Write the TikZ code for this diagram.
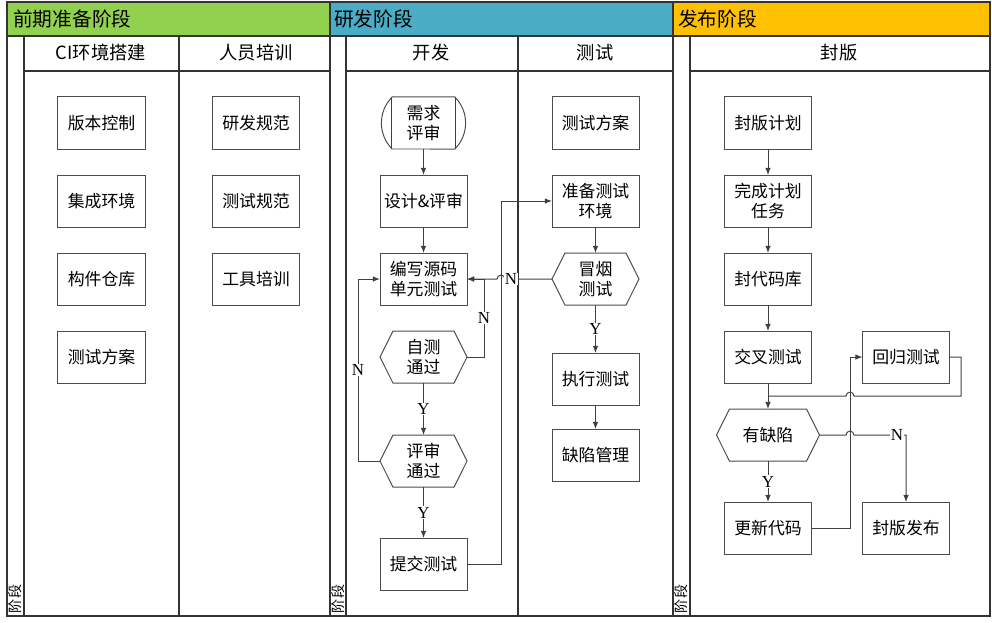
\documentclass[tikz,border=0pt]{standalone}
\usepackage{fontspec}
\setmainfont{Noto Sans CJK SC}
\newfontfamily\yesno{Liberation Serif}
\usetikzlibrary{arrows.meta, shapes.misc, shapes.symbols, positioning, calc}
\tikzset{frame/.style = {draw=black!80, line width=0.8pt}}
\tikzset{box/.style = {
  rectangle,
  draw=black!70, line width=0.7pt,
  minimum width=2.175cm, minimum height=1.3cm,
  text centered, align=center,
  inner sep=1pt, outer sep=0pt,
  font=\fontsize{12}{14.5}\selectfont
  }}
\tikzset{decision/.style = {
  box,
  signal, signal to=west and east,
  signal pointer angle=127
  }}
\tikzset{terminal/.style = {
  box,
  rounded rectangle,
  rounded rectangle arc length=90
  }}
\tikzset{flow/.style = {draw=black!75, line width=0.7pt}}
\tikzset{arrow/.style = {
  flow,
  -{Latex[length=1.8mm,width=1.4mm]}
  }}
\tikzset{yn/.style = {fill=white, inner sep=0.6pt, font=\yesno\fontsize{12}{12}\selectfont}}
\tikzset{poolname/.style = {anchor=west, inner sep=0pt, font=\fontsize{14}{14}\selectfont}}
\tikzset{lanename/.style = {font=\fontsize{13}{13}\selectfont}}
\tikzset{stripname/.style = {rotate=90, anchor=west, inner sep=0.5pt, font=\fontsize{10}{10}\selectfont}}
\tikzset{bridge/.style = {radius=0.1cm}}

\begin{document}
\begin{tikzpicture}[x=0.025cm, y=-0.025cm]
  \useasboundingbox (0,0) rectangle (992,623);
  %
  % Pools and lanes
  %
  \fill[fill={rgb,255:red,146;green,208;blue,80}] (7,2) rectangle (330,36);
  \fill[fill={rgb,255:red,75;green,172;blue,198}] (330,2) rectangle (673,36);
  \fill[fill={rgb,255:red,255;green,192;blue,0}] (673,2) rectangle (990,36);
  \draw[frame] (7,2) rectangle (990,616);
  \draw[frame] (7,36) -- (990,36);
  \draw[frame] (330,2) -- (330,616);
  \draw[frame] (673,2) -- (673,616);
  \foreach \x in {24,346,690,179,518}
    \draw[frame] (\x,36) -- (\x,616);
  \draw[frame] (24,71) -- (330,71);
  \draw[frame] (346,71) -- (673,71);
  \draw[frame] (690,71) -- (990,71);

  \node (prep) [poolname] at (13,19) {前期准备阶段};
  \node (rnd) [poolname] at (334,19) {研发阶段};
  \node (pub) [poolname] at (678,19) {发布阶段};

  \node (ciLane) [lanename] at (101,53) {CI环境搭建};
  \node (staffLane) [lanename] at (256,53) {人员培训};
  \node (devLane) [lanename] at (431,53) {开发};
  \node (testLane) [lanename] at (595,53) {测试};
  \node (sealLane) [lanename] at (839,53) {封版};

  \node (prepStrip) [stripname] at (15.5,614) {阶段};
  \node (rndStrip) [stripname] at (338,614) {阶段};
  \node (pubStrip) [stripname] at (681.5,614) {阶段};

  %
  % Specification of nodes
  %
  \node (vcs) [box] at (101.5,123) {版本控制};
  \node (integ) [box, below = 0.65cm of vcs] {集成环境};
  \node (artifact) [box, below = 0.65cm of integ] {构件仓库};
  \node (testplanA) [box, below = 0.65cm of artifact] {测试方案};

  \node (devspec) [box] at (256,123) {研发规范};
  \node (testspec) [box, below = 0.65cm of devspec] {测试规范};
  \node (tooltrain) [box, below = 0.65cm of testspec] {工具培训};

  \node (req) [terminal] at (423.5,123) {需求\\评审};
  \node (design) [box, below = 0.65cm of req] {设计\&评审};
  \node (code) [box, below = 0.65cm of design] {编写源码\\单元测试};
  \node (selfchk) [decision, below = 0.65cm of code] {自测\\通过};
  \node (reviewchk) [decision, below = 1.3cm of selfchk] {评审\\通过};
  \node (submit) [box, below = 1.275cm of reviewchk] {提交测试};

  \node (testplanB) [box] at (595.5,123) {测试方案};
  \node (prepenv) [box, below = 0.65cm of testplanB] {准备测试\\环境};
  \node (smoke) [decision, below = 0.65cm of prepenv] {冒烟\\测试};
  \node (exec) [box, below = 1.2cm of smoke] {执行测试};
  \node (defmgr) [box, below = 0.6cm of exec] {缺陷管理};

  \node (sealplan) [box] at (768,123) {封版计划};
  \node (finish) [box, below = 0.65cm of sealplan] {完成计划\\任务};
  \node (freeze) [box, below = 0.65cm of finish] {封代码库};
  \node (cross) [box, below = 0.65cm of freeze] {交叉测试};
  \node (hasdef) [decision, minimum width=2.575cm, below = 0.65cm of cross] {有缺陷};
  \node (update) [box, below = 1.025cm of hasdef] {更新代码};
  \node (regress) [box, right = 1.275cm of cross] {回归测试};
  \node (release) [box, right = 1.275cm of update] {封版发布};

  % inner edges of the terminal
  \draw[flow] ([xshift=0.25cm, yshift=0.65cm]req.west) -- ([xshift=0.25cm, yshift=-0.65cm]req.west);
  \draw[flow] ([xshift=-0.25cm, yshift=0.65cm]req.east) -- ([xshift=-0.25cm, yshift=-0.65cm]req.east);

  % routing columns
  \coordinate (busL) at (358,0);
  \coordinate (busA) at (484,0);
  \coordinate (busB) at (501,0);
  \coordinate (busD) at (850,0);
  \coordinate (busE) at (961,0);
  \coordinate (merge) at ($(cross.south)!0.5!(hasdef.north)$);

  %
  % Specification of lines
  %
  \draw [arrow] (req.south) -- (design.north);
  \draw [arrow] (design.south) -- (code.north);
  \draw [arrow] (selfchk.south) -- node (y1) [yn] {Y} (reviewchk.north);
  \draw [arrow] (reviewchk.south) -- node (y2) [yn] {Y} (submit.north);
  \draw [arrow] (selfchk.east) -| (busA |- code.east) -- (code.east);
  \draw [arrow] (reviewchk.west) -| (busL |- code.west) -- (code.west);
  \draw [arrow] (smoke.west) -- ($(busB |- smoke.west)+(4,0)$)
    arc[start angle=0, end angle=180, bridge] -- (code.east);
  \draw [arrow] (submit.east) -| (busB |- prepenv.west) -- (prepenv.west);
  \node (n1) [yn] at ($(busA |- selfchk.east)!0.5!(busA |- code.east)$) {N};
  \node (n2) [yn] at ($(busL |- reviewchk.west)!0.5!(busL |- code.west)$) {N};
  \node (n3) [yn] at ($(busB |- smoke.west)+(10,0)$) {N};

  \draw [arrow] (prepenv.south) -- (smoke.north);
  \draw [arrow] (smoke.south) -- node (y3) [yn] {Y} (exec.north);
  \draw [arrow] (exec.south) -- (defmgr.north);

  \draw [arrow] (sealplan.south) -- (finish.north);
  \draw [arrow] (finish.south) -- (freeze.north);
  \draw [arrow] (freeze.south) -- (cross.north);
  \draw [arrow] (cross.south) -- (hasdef.north);
  \draw [arrow] (hasdef.south) -- node (y4) [yn] {Y} (update.north);
  \draw [arrow] (update.east) -| (busD |- regress.west) -- (regress.west);
  \draw [flow] (regress.east) -| (busE |- merge) -- ($(busD |- merge)+(4,0)$)
    arc[start angle=0, end angle=180, bridge] -- (merge);
  \draw [arrow] (hasdef.east) -- ($(busD |- hasdef.east)-(4,0)$)
    arc[start angle=180, end angle=0, bridge] -| (release.north);
  \node (n4) [yn] at ($(release.north |- hasdef.east)+(-9,0)$) {N};
\end{tikzpicture}
\end{document}
